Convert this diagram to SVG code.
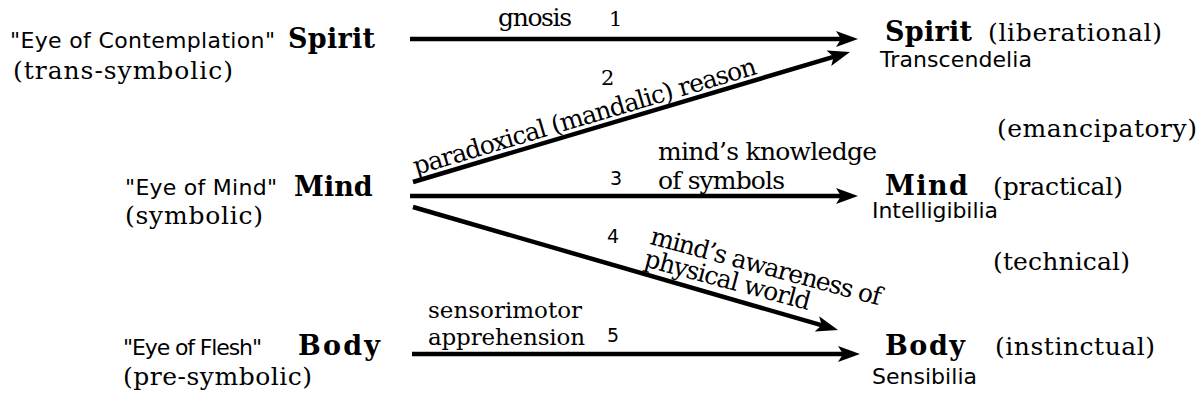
<svg xmlns="http://www.w3.org/2000/svg" width="1200" height="406" viewBox="0 0 1200 406">
<style>
.sans{font-family:"DejaVu Sans","Liberation Sans",sans-serif;font-size:22px;fill:#000}
.num{font-family:"DejaVu Sans","Liberation Sans",sans-serif;font-size:19px;fill:#000}
.ser{font-family:"DejaVu Serif","Liberation Serif",serif;font-size:25px;fill:#000}
.small{font-size:23px}
.nser{font-family:"DejaVu Serif","Liberation Serif",serif;font-size:21px;fill:#000}
.bold{font-family:"DejaVu Serif","Liberation Serif",serif;font-size:27px;font-weight:bold;fill:#000}
.arrow{stroke:#000;stroke-width:4.5;fill:none;marker-end:url(#ah)}
</style>
<defs>
<marker id="ah" markerUnits="userSpaceOnUse" markerWidth="22" markerHeight="16" viewBox="0 0 22 16" refX="10" refY="8" orient="auto">
<path d="M0,0 L22,8 L0,16 L5,8 Z" fill="#000"/>
</marker>
</defs>
<rect width="1200" height="406" fill="#fff"/>
<g id="left-spirit">
<text class="sans" x="10" y="48" textLength="265" lengthAdjust="spacing">"Eye of Contemplation"</text>
<text class="bold" x="288" y="48" textLength="87" lengthAdjust="spacing">Spirit</text>
<text class="ser" x="13" y="79" textLength="220" lengthAdjust="spacing">(trans-symbolic)</text>
</g>
<g id="left-mind">
<text class="sans" x="125" y="195" textLength="152" lengthAdjust="spacing">"Eye of Mind"</text>
<text class="bold" x="294" y="196">Mind</text>
<text class="ser" x="125" y="224" textLength="138" lengthAdjust="spacing">(symbolic)</text>
</g>
<g id="left-body">
<text class="sans" x="123" y="355" textLength="139" lengthAdjust="spacing">"Eye of Flesh"</text>
<text class="bold" x="298" y="355" textLength="82" lengthAdjust="spacing">Body</text>
<text class="ser" x="123" y="385" textLength="189" lengthAdjust="spacing">(pre-symbolic)</text>
</g>
<g id="right-spirit">
<text class="bold" x="885" y="41" textLength="87" lengthAdjust="spacing">Spirit</text>
<text class="ser" x="988" y="41" textLength="174" lengthAdjust="spacing">(liberational)</text>
<text class="sans" x="880" y="67" textLength="152" lengthAdjust="spacing">Transcendelia</text>
</g>
<g id="emancipatory">
<text class="ser" x="997" y="137" textLength="200" lengthAdjust="spacing">(emancipatory)</text>
</g>
<g id="right-mind">
<text class="bold" x="885" y="195" textLength="83" lengthAdjust="spacing">Mind</text>
<text class="ser" x="993" y="195" textLength="130" lengthAdjust="spacing">(practical)</text>
<text class="sans" x="872" y="218" textLength="126" lengthAdjust="spacing">Intelligibilia</text>
</g>
<g id="technical">
<text class="ser" x="993" y="270" textLength="137" lengthAdjust="spacing">(technical)</text>
</g>
<g id="right-body">
<text class="bold" x="885" y="355" textLength="80" lengthAdjust="spacing">Body</text>
<text class="ser" x="995" y="355" textLength="160" lengthAdjust="spacing">(instinctual)</text>
<text class="sans" x="872" y="384" textLength="105" lengthAdjust="spacing">Sensibilia</text>
</g>
<g id="connectors">
<line class="arrow" x1="410" y1="39" x2="846" y2="39"/>
<line class="arrow" x1="413" y1="182" x2="838.5" y2="55.4"/>
<line class="arrow" x1="410" y1="196" x2="846" y2="196"/>
<line class="arrow" x1="413" y1="207" x2="826.5" y2="326.7"/>
<line class="arrow" x1="412" y1="354" x2="848" y2="354"/>
</g>
<g id="connector-labels">
<text class="ser" x="498" y="26" textLength="74" lengthAdjust="spacing">gnosis</text>
<text class="nser" x="609" y="26">1</text>
<text class="nser" x="601" y="85">2</text>
<text class="ser" transform="translate(416,175) rotate(-16.5)" x="0" y="0" textLength="357" lengthAdjust="spacing">paradoxical (mandalic) reason</text>
<text class="num" x="610" y="185">3</text>
<text class="ser" x="658" y="160" textLength="219" lengthAdjust="spacing">mind’s knowledge</text>
<text class="ser" x="658" y="189" textLength="127" lengthAdjust="spacing">of symbols</text>
<text class="num" x="607" y="243">4</text>
<g transform="translate(643,266) rotate(15)">
<text class="ser" x="0" y="-23" textLength="238" lengthAdjust="spacing">mind’s awareness of</text>
<text class="ser" x="0" y="0" textLength="171" lengthAdjust="spacing">physical world</text>
</g>
<text class="ser small" x="428" y="318" textLength="154" lengthAdjust="spacing">sensorimotor</text>
<text class="ser small" x="428" y="345" textLength="157" lengthAdjust="spacing">apprehension</text>
<text class="num" x="607" y="342">5</text>
</g>
</svg>
